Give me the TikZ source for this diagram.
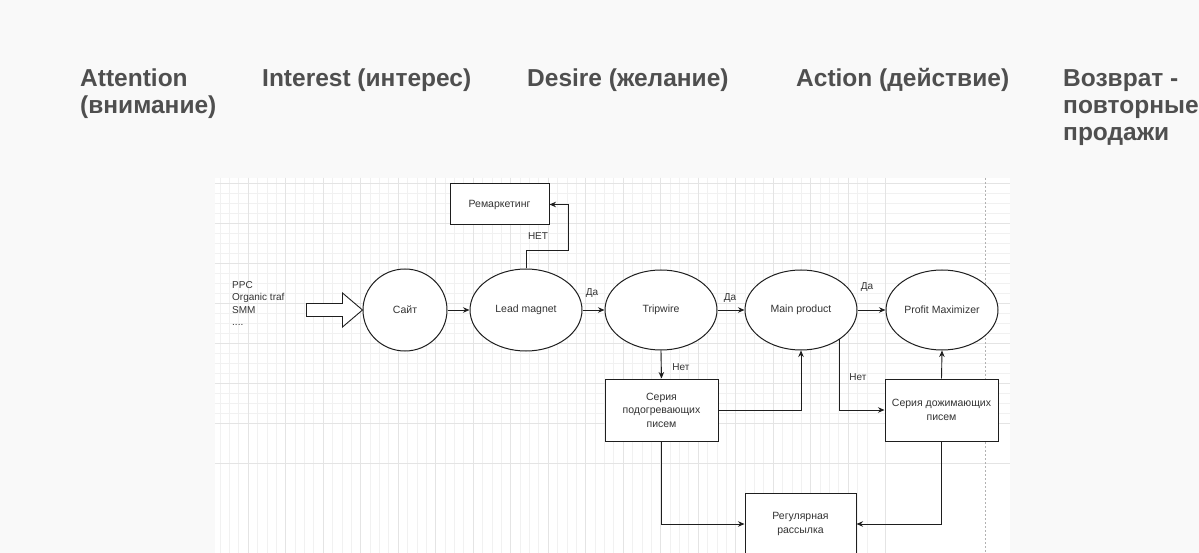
\documentclass[tikz,border=0pt]{standalone}
\usepackage{fontspec}
\setmainfont{Liberation Sans}
\newfontfamily\titlefont{Liberation Sans}
\newfontfamily\dfont{Liberation Sans}
\usetikzlibrary{shapes.geometric,arrows.meta,calc}
\definecolor{bgc}{HTML}{F9F9F9}
\definecolor{titlec}{HTML}{4F4F4F}
\definecolor{linec}{HTML}{1E1E1E}
\definecolor{textc}{HTML}{333333}
\definecolor{gridmaj}{HTML}{E4E4E4}
\definecolor{gridmin}{HTML}{F1F1F1}
\begin{document}
\begin{tikzpicture}[x=1pt,y=-1pt,
  title/.style={font=\titlefont\bfseries\fontsize{24.5}{27}\selectfont, text=titlec, inner sep=0pt, anchor=base west, align=left},
  ell/.style={ellipse, draw=linec, line width=1pt, fill=white, inner sep=0pt, font=\dfont\fontsize{10.5}{12}\selectfont, text=textc},
  boxn/.style={rectangle, draw=linec, line width=1pt, fill=white, inner sep=0pt, align=center, font=\dfont\fontsize{10.5}{13.5}\selectfont, text=textc},
  lbl/.style={font=\dfont\fontsize{10}{11}\selectfont, text=textc, inner sep=0pt},
  arr/.style={draw=linec, line width=0.9pt, -{Stealth[length=6.5pt,width=5.5pt]}},
  ln/.style={draw=linec, line width=0.9pt}]
\useasboundingbox (0,0) rectangle (1199,553);
\fill[bgc] (0,0) rectangle (1199,553);
% grid area
\fill[white] (215,178) rectangle (1010,553);
\begin{scope}
\clip (215,178) rectangle (1010,553);
\foreach \i in {0,...,90} {
  \draw[gridmin, line width=0.5pt] ({23+9.375*\i},178) -- ({23+9.375*\i},553);
}
\foreach \i in {0,...,40} {
  \draw[gridmin, line width=0.5pt] (215,{23+10*\i}) -- (1010,{23+10*\i});
}
\foreach \i in {0,...,23} {
  \draw[gridmaj, line width=0.6pt] ({23+37.5*\i},178) -- ({23+37.5*\i},553);
}
\foreach \i in {0,...,11} {
  \draw[gridmaj, line width=0.6pt] (215,{23+40*\i}) -- (1010,{23+40*\i});
}
\end{scope}
\draw[gray!60, line width=0.6pt, dash pattern=on 2pt off 2pt] (985,178) -- (985,553);

% titles (base anchor of multi-line nodes is the last line)
\node[title] (t1) at (80,114) {Attention\\(внимание)};
\node[title] (t2) at (262,87) {Interest (интерес)};
\node[title] (t3) at (527,87) {Desire (желание)};
\node[title] (t4) at (796,87) {Action (действие)};
\node[title] (t5) at (1063,141) {Возврат -\\повторные\\продажи};

% source text
\node[lbl, anchor=north west, align=left, font=\dfont\fontsize{10}{12.5}\selectfont] (src) at (232,281) {PPC\\Organic traf\\SMM\\....};

% ellipses
\node[ell, minimum width=84pt, minimum height=82pt] (site) at (405,310) {Сайт};
\node[ell, minimum width=112pt, minimum height=82pt] (lead) at (526,310) {Lead magnet};
\node[ell, minimum width=112pt, minimum height=80pt] (trip) at (661,310) {Tripwire};
\node[ell, minimum width=112pt, minimum height=80pt] (main) at (801,310) {Main product};
\node[ell, minimum width=112pt, minimum height=80pt] (profit) at (942,310) {Profit Maximizer};

% boxes
\node[boxn, minimum width=99pt, minimum height=41pt] (rem) at (499.5,204.5) {Ремаркетинг};
\node[boxn, minimum width=113pt, minimum height=62pt] (warm) at (661.5,410) {Серия\\подогревающих\\писем};
\node[boxn, minimum width=113pt, minimum height=62pt] (push) at (941.5,410) {Серия дожимающих\\писем};
\node[boxn, minimum width=111pt, minimum height=62pt] (reg) at (800.5,524) {Регулярная\\рассылка};

% hollow input arrow
\draw[linec, line width=0.9pt, fill=white]
  (site.west) -- ++(-20,-17) -- ++(0,10.5) -- ++(-36,0) -- ++(0,13) -- ++(36,0) -- ++(0,10.5) -- cycle;

% connectors
\draw[arr] (site.east) -- (lead.west);
\draw[arr] (lead.east) -- (trip.west);
\draw[arr] (trip.east) -- (main.west);
\draw[arr] (main.east) -- (profit.west);
\node[lbl] (da1) at (592,293) {Да};
\node[lbl] (da2) at (730,298) {Да};
\node[lbl] (da3) at (867,287) {Да};

\coordinate (r1) at (526,250);
\coordinate (r2) at (568,250);
\coordinate (r3) at (568,204.5);
\draw[arr] (lead.north) -- (r1) -- (r2) -- (r3) -- (rem.east);
\node[lbl] (net0) at (538,236) {НЕТ};

\draw[arr] (trip.south) -- (warm.north);
\node[lbl] (net1) at (681,367) {Нет};
\draw[arr] (warm.east) -| (main.south);
\coordinate (m1) at ($(main.center)+(38,29)$);
\draw[arr] (m1) |- (push.west);
\node[lbl] (net2) at (858,377) {Нет};
\draw[arr] (push.north) -- (profit.south);
\draw[arr] (warm.south) |- (reg.west);
\draw[arr] (push.south) |- (reg.east);
\end{tikzpicture}
\end{document}
